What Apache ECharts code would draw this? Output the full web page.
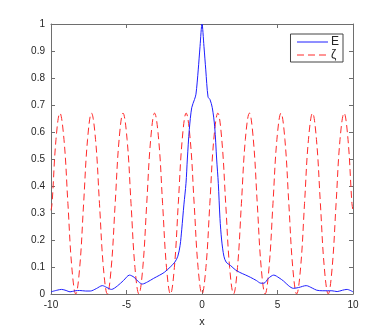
<!DOCTYPE html>
<html>
<head>
<meta charset="utf-8">
<script src="https://cdn.jsdelivr.net/npm/echarts@6/dist/echarts.min.js"></script>
<style>
  html, body { margin: 0; padding: 0; background: #fff; }
  #chart { width: 390px; height: 332px; }
</style>
</head>
<body>
<div id="chart"></div>
<script>
// E curve
const eX = [-10, -9.6, -9.3, -9.0, -8.74, -8.4, -8.1, -7.7, -7.4, -7.0, -6.6, -6.3, -6.0, -5.6, -5.2, -4.8, -4.5, -4.2, -3.95, -3.6, -3.2, -2.8, -2.5, -2.1, -1.8, -1.6, -1.45, -1.34, -1.2, -1.06, -0.97, -0.84, -0.68, -0.5, -0.4, -0.25, -0.13, 0,
  0.13, 0.25, 0.4, 0.53, 0.68, 0.84, 0.97, 1.08, 1.19, 1.3, 1.45, 1.6, 1.9, 2.2, 2.5, 2.9, 3.2, 3.6, 3.9, 4.1, 4.4, 4.75, 5.1, 5.4, 5.75, 6.05, 6.4, 6.9, 7.3, 7.6, 8.0, 8.3, 8.6, 8.95, 9.3, 9.6, 10]
const eVal = [0.008, 0.014, 0.017, 0.013, 0.008, 0.012, 0.013, 0.011, 0.011, 0.02, 0.031, 0.024, 0.017, 0.03, 0.05, 0.07, 0.062, 0.045, 0.037, 0.045, 0.058, 0.07, 0.08, 0.1, 0.118, 0.14, 0.18, 0.24, 0.33, 0.41, 0.5, 0.61, 0.69, 0.72, 0.74, 0.83, 0.917, 1,
  0.917, 0.83, 0.73, 0.72, 0.69, 0.62, 0.5, 0.41, 0.28, 0.2, 0.14, 0.118, 0.105, 0.09, 0.08, 0.07, 0.062, 0.05, 0.04, 0.04, 0.058, 0.07, 0.06, 0.048, 0.03, 0.021, 0.024, 0.031, 0.022, 0.014, 0.012, 0.012, 0.012, 0.009, 0.014, 0.017, 0.008]

// zeta curve
const zX = [-10, -9.93, -9.67, -9.41, -9.14, -8.88, -8.62, -8.36, -8.10, -7.84, -7.58, -7.32, -7.05, -6.79, -6.53, -6.27, -6.01, -5.75, -5.49, -5.23, -4.96, -4.70, -4.44, -4.18, -3.92, -3.66, -3.40, -3.14, -2.87, -2.61, -2.35, -2.09, -1.83, -1.57, -1.31, -1.05, -0.78, -0.52, -0.26,
  0, 0.26, 0.52, 0.78, 1.05, 1.31, 1.57, 1.83, 2.09, 2.35, 2.61, 2.87, 3.14, 3.40, 3.66, 3.92, 4.18, 4.44, 4.70, 4.96, 5.23, 5.49, 5.75, 6.01, 6.27, 6.53, 6.79, 7.05, 7.32, 7.58, 7.84, 8.10, 8.36, 8.62, 8.88, 9.14, 9.41, 9.67, 9.93, 10]
const zVal = [0.31, 0.335, 0.572, 0.67, 0.572, 0.335, 0.098, 0, 0.098, 0.335, 0.572, 0.67, 0.572, 0.335, 0.098, 0, 0.098, 0.335, 0.572, 0.67, 0.572, 0.335, 0.098, 0, 0.098, 0.335, 0.572, 0.67, 0.572, 0.335, 0.098, 0, 0.098, 0.335, 0.572, 0.67, 0.572, 0.335, 0.098,
  0, 0.098, 0.335, 0.572, 0.67, 0.572, 0.335, 0.098, 0, 0.098, 0.335, 0.572, 0.67, 0.572, 0.335, 0.098, 0, 0.098, 0.335, 0.572, 0.67, 0.572, 0.335, 0.098, 0, 0.098, 0.335, 0.572, 0.67, 0.572, 0.335, 0.098, 0, 0.098, 0.335, 0.572, 0.67, 0.572, 0.335, 0.31]

const axisColor = '#6e6e6e'
const labelColor = '#262626'
const font = 'Liberation Sans, Arial, sans-serif'

const chart = echarts.init(document.getElementById('chart'), null, { renderer: 'canvas' })

const pairs = (xs, ys) => xs.map((x, i) => [x, ys[i]])

// plain axis with ticks pointing into the plot
function boxAxis(extra) {
  return Object.assign({
    type: 'value',
    axisLine: { show: true, onZero: false, lineStyle: { color: axisColor, width: 1 } },
    axisTick: { show: true, inside: true, length: 4, lineStyle: { color: axisColor } },
    splitLine: { show: false },
    axisLabel: { show: false },
  }, extra)
}

chart.setOption({
  animation: false,
  textStyle: { fontFamily: font },
  grid: { left: 51, right: 37, top: 24, bottom: 37 },
  legend: {
    right: 47,
    top: 34,
    orient: 'vertical',
    backgroundColor: '#fff',
    borderColor: '#444',
    borderWidth: 1,
    borderRadius: 0,
    padding: [2, 4, 1, 6],
    itemGap: 1,
    itemWidth: 31,
    itemHeight: 12,
    itemStyle: { opacity: 0 },
    lineStyle: { width: 1 },
    textStyle: { fontSize: 12, color: labelColor, fontFamily: font, padding: [0, 0, 0, -2] },
    data: ['E', 'ζ'],
  },
  xAxis: [
    boxAxis({
      min: -10, max: 10, interval: 5, position: 'bottom',
      name: 'x', nameLocation: 'middle', nameGap: 22,
      nameTextStyle: { fontSize: 11, color: labelColor, fontFamily: font },
      axisLabel: { show: true, fontSize: 10, color: labelColor, margin: 6, fontFamily: font },
    }),
    boxAxis({ min: -10, max: 10, interval: 5, position: 'top' }),
  ],
  yAxis: [
    boxAxis({
      min: 0, max: 1, interval: 0.1, position: 'left',
      axisLabel: { show: true, fontSize: 10, color: labelColor, margin: 6, fontFamily: font },
    }),
    boxAxis({ min: 0, max: 1, interval: 0.1, position: 'right' }),
  ],
  series: [
    {
      name: 'E',
      type: 'line',
      data: pairs(eX, eVal),
      smooth: 0.3,
      showSymbol: false,
      symbol: 'none',
      lineStyle: { color: '#1f1fff', width: 1 },
      itemStyle: { color: '#1f1fff' },
      z: 3,
    },
    {
      name: 'ζ',
      type: 'line',
      data: pairs(zX, zVal),
      smooth: 0.4,
      showSymbol: false,
      symbol: 'none',
      lineStyle: { color: '#ff2a2a', width: 1, type: [7, 4] },
      itemStyle: { color: '#ff2a2a' },
      z: 2,
    },
  ],
})
</script>
</body>
</html>
